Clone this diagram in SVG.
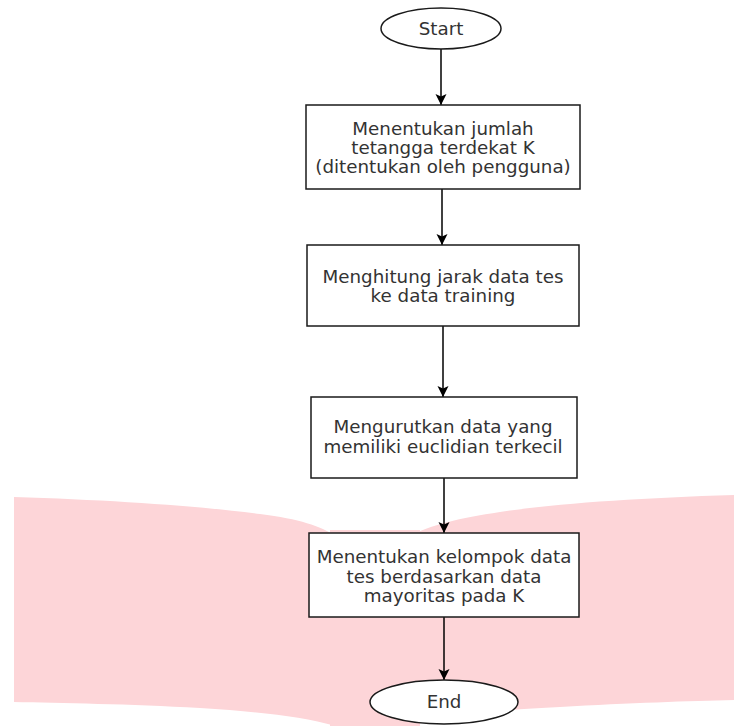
<svg xmlns="http://www.w3.org/2000/svg" width="734" height="726" viewBox="0 0 734 726">
<style>
.box{fill:#ffffff;stroke:#1a1a1a;stroke-width:1.5}
.lbl{font-family:"DejaVu Sans",Verdana,sans-serif;font-size:18.3px;fill:#333333;text-anchor:middle}
.edge{stroke:#000000;stroke-width:1.5;fill:none}
.page{fill:#fdd5d8}
</style>
<defs>
<marker id="arr" markerUnits="userSpaceOnUse" markerWidth="12" markerHeight="12" viewBox="0 0 12 12" refX="11" refY="6" orient="auto">
<path d="M0,0.5 L11,6 L0,11.5 L2.5,6 z" fill="#000000"/>
</marker>
</defs>
<rect width="734" height="726" fill="#ffffff"/>
<g id="background">
<path class="page" d="M14,497 C110,500 200,506 260,514 C300,519 320,526 336,536 L336,726 C300,716 260,712 200,708 C130,704 60,703 14,702 Z"/>
<path class="page" d="M734,495 C640,498 560,503 500,512 C460,518 430,525 410,536 L410,726 C450,716 490,710 560,707 C630,703 690,701 734,700 Z"/>
<rect class="page" x="330" y="530" width="90" height="196"/>
</g>
<g id="connectors">
<line class="edge" x1="441" y1="49" x2="441" y2="105" marker-end="url(#arr)"/>
<line class="edge" x1="442" y1="189" x2="442" y2="245" marker-end="url(#arr)"/>
<line class="edge" x1="443" y1="326" x2="443" y2="397" marker-end="url(#arr)"/>
<line class="edge" x1="444" y1="478" x2="444" y2="533" marker-end="url(#arr)"/>
<line class="edge" x1="444" y1="617" x2="444" y2="680" marker-end="url(#arr)"/>
</g>
<g id="start">
<ellipse class="box" cx="441" cy="28.5" rx="60" ry="20.5"/>
<text class="lbl" x="441" y="35">Start</text>
</g>
<g id="step1">
<rect class="box" x="306" y="105" width="274" height="84"/>
<text class="lbl" x="443" y="135">Menentukan jumlah</text>
<text class="lbl" x="443" y="154">tetangga terdekat K</text>
<text class="lbl" x="443" y="173">(ditentukan oleh pengguna)</text>
</g>
<g id="step2">
<rect class="box" x="307" y="245" width="272" height="81"/>
<text class="lbl" x="443" y="283">Menghitung jarak data tes</text>
<text class="lbl" x="443" y="302">ke data training</text>
</g>
<g id="step3">
<rect class="box" x="311" y="397" width="266" height="81"/>
<text class="lbl" x="443" y="433">Mengurutkan data yang</text>
<text class="lbl" x="443" y="453">memiliki euclidian terkecil</text>
</g>
<g id="step4">
<rect class="box" x="309" y="533" width="270" height="84"/>
<text class="lbl" x="444" y="563">Menentukan kelompok data</text>
<text class="lbl" x="444" y="583">tes berdasarkan data</text>
<text class="lbl" x="444" y="602">mayoritas pada K</text>
</g>
<g id="end">
<ellipse class="box" cx="444" cy="702" rx="74" ry="22"/>
<text class="lbl" x="444" y="708">End</text>
</g>
</svg>
